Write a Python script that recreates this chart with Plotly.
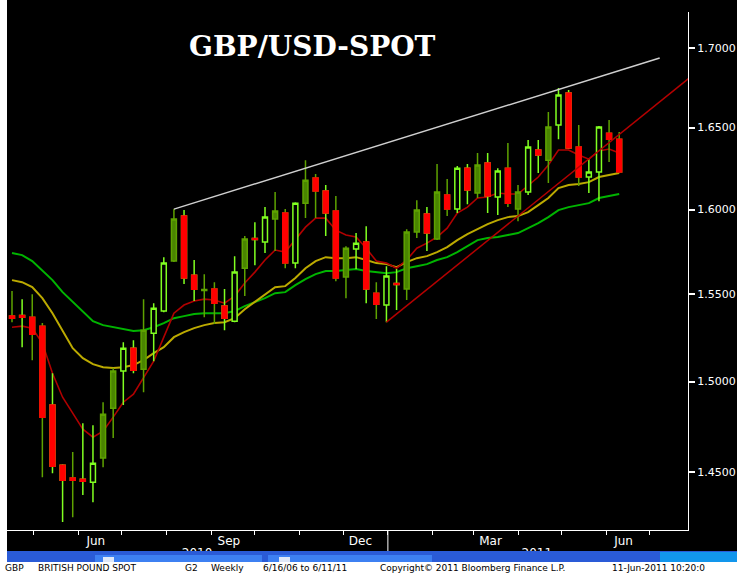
import numpy as np
import plotly.graph_objects as go

# ---------------- data ----------------
dates = [
    "2010-04-16", "2010-04-23", "2010-04-30", "2010-05-07", "2010-05-14", "2010-05-21", "2010-05-28",
    "2010-06-04", "2010-06-11", "2010-06-18", "2010-06-25", "2010-07-02", "2010-07-09", "2010-07-16",
    "2010-07-23", "2010-07-30", "2010-08-06", "2010-08-13", "2010-08-20", "2010-08-27", "2010-09-03",
    "2010-09-10", "2010-09-17", "2010-09-24", "2010-10-01", "2010-10-08", "2010-10-15", "2010-10-22",
    "2010-10-29", "2010-11-05", "2010-11-12", "2010-11-19", "2010-11-26", "2010-12-03", "2010-12-10",
    "2010-12-17", "2010-12-24", "2010-12-31", "2011-01-07", "2011-01-14", "2011-01-21", "2011-01-28",
    "2011-02-04", "2011-02-11", "2011-02-18", "2011-02-25", "2011-03-04", "2011-03-11", "2011-03-18",
    "2011-03-25", "2011-04-01", "2011-04-08", "2011-04-15", "2011-04-22", "2011-04-29", "2011-05-06",
    "2011-05-13", "2011-05-20", "2011-05-27", "2011-06-03", "2011-06-10",
]
open_ = [
    1.5373, 1.5376, 1.5367, 1.5315, 1.4868, 1.4536, 1.4466, 1.4460, 1.4444, 1.4575,
    1.4851, 1.5059, 1.5189, 1.5070, 1.5275, 1.5402, 1.5694, 1.5961, 1.5611, 1.5521,
    1.5530, 1.5431, 1.5344, 1.5652, 1.5827, 1.5806, 1.5943, 1.5979, 1.5682, 1.6039,
    1.6191, 1.6112, 1.5991, 1.5600, 1.5765, 1.5806, 1.5506, 1.5437, 1.5562, 1.5530,
    1.5866, 1.5973, 1.5824, 1.6088, 1.6003, 1.6251, 1.6100, 1.6282, 1.6076, 1.6251,
    1.6003, 1.6106, 1.6362, 1.6300, 1.6516, 1.6716, 1.6380, 1.6197, 1.6227, 1.6466,
    1.6429,
]
high = [
    1.5518, 1.5471, 1.5500, 1.5333, 1.5047, 1.4542, 1.4608, 1.4767, 1.4756, 1.4884,
    1.5076, 1.5223, 1.5235, 1.5471, 1.5448, 1.5717, 1.6003, 1.5997, 1.5700, 1.5617,
    1.5570, 1.5530, 1.5723, 1.5842, 1.5925, 1.6015, 1.6106, 1.6003, 1.6045, 1.6300,
    1.6215, 1.6148, 1.6082, 1.5782, 1.5860, 1.5901, 1.5570, 1.5664, 1.5647, 1.5883,
    1.6057, 1.6015, 1.6276, 1.6185, 1.6264, 1.6276, 1.6343, 1.6343, 1.6251, 1.6405,
    1.6148, 1.6423, 1.6423, 1.6597, 1.6747, 1.6735, 1.6516, 1.6306, 1.6510, 1.6547,
    1.6473,
]
low = [
    1.5338, 1.5195, 1.5121, 1.4471, 1.4493, 1.4229, 1.4255, 1.4374, 1.4336, 1.4525,
    1.4685, 1.4868, 1.5047, 1.4940, 1.5115, 1.5396, 1.5688, 1.5559, 1.5460, 1.5367,
    1.5327, 1.5292, 1.5338, 1.5489, 1.5670, 1.5741, 1.5753, 1.5652, 1.5652, 1.5949,
    1.5949, 1.5842, 1.5576, 1.5477, 1.5647, 1.5448, 1.5356, 1.5338, 1.5408, 1.5466,
    1.5830, 1.5753, 1.5818, 1.5961, 1.5979, 1.6033, 1.6070, 1.5979, 1.5967, 1.6015,
    1.5931, 1.6088, 1.6221, 1.6160, 1.6429, 1.6368, 1.6142, 1.6100, 1.6051, 1.6288,
    1.6221,
]
close = [
    1.5361, 1.5367, 1.5269, 1.4801, 1.4531, 1.4455, 1.4455, 1.4449, 1.4547, 1.4817,
    1.5059, 1.5189, 1.5064, 1.5292, 1.5419, 1.5682, 1.5943, 1.5594, 1.5529, 1.5527,
    1.5448, 1.5361, 1.5629, 1.5824, 1.5821, 1.5955, 1.5991, 1.5682, 1.6039, 1.6178,
    1.6112, 1.5979, 1.5594, 1.5770, 1.5800, 1.5530, 1.5442, 1.5606, 1.5556, 1.5866,
    1.5997, 1.5860, 1.6106, 1.6003, 1.6251, 1.6118, 1.6270, 1.6082, 1.6233, 1.6039,
    1.6106, 1.6380, 1.6331, 1.6504, 1.6703, 1.6374, 1.6197, 1.6227, 1.6504, 1.6429,
    1.6227,
]
# candle kind as seen: h = hollow up, f = filled up, ro / rb = down (olive / bright wick)
kind = [
    "ro", "rb", "ro", "ro", "rb", "rb", "ro", "rb", "h", "f",
    "f", "h", "rb", "f", "h", "h", "f", "rb", "rb", "f",
    "ro", "rb", "h", "f", "rb", "h", "f", "ro", "h", "f",
    "ro", "rb", "ro", "f", "h", "rb", "ro", "h", "rb", "f",
    "f", "rb", "f", "ro", "h", "rb", "f", "rb", "h", "ro",
    "f", "h", "rb", "f", "h", "rb", "ro", "h", "h", "ro",
    "ro",
]
ma_red = [
    1.5309, 1.5315, 1.5304, 1.5218, 1.5047, 1.4912, 1.4823, 1.4734, 1.4690, 1.4723,
    1.4801, 1.4884, 1.4929, 1.5019, 1.5115, 1.5252, 1.5390, 1.5437, 1.5460, 1.5471,
    1.5466, 1.5448, 1.5489, 1.5565, 1.5629, 1.5700, 1.5759, 1.5747, 1.5818, 1.5895,
    1.5949, 1.5949, 1.5877, 1.5848, 1.5836, 1.5770, 1.5694, 1.5682, 1.5652, 1.5700,
    1.5770, 1.5800, 1.5836, 1.5889, 1.5979, 1.6015, 1.6070, 1.6076, 1.6100, 1.6094,
    1.6094, 1.6148, 1.6197, 1.6270, 1.6362, 1.6362, 1.6331, 1.6306, 1.6356, 1.6368,
    1.6343,
]
ma_yellow = [
    1.5582, 1.5570, 1.5541, 1.5477, 1.5390, 1.5292, 1.5189, 1.5132, 1.5098, 1.5081,
    1.5076, 1.5081, 1.5093, 1.5121, 1.5161, 1.5195, 1.5252, 1.5281, 1.5304, 1.5321,
    1.5333, 1.5338, 1.5361, 1.5413, 1.5454, 1.5500, 1.5541, 1.5547, 1.5594, 1.5652,
    1.5694, 1.5717, 1.5711, 1.5711, 1.5717, 1.5700, 1.5682, 1.5676, 1.5658, 1.5688,
    1.5711, 1.5723, 1.5747, 1.5776, 1.5818, 1.5854, 1.5883, 1.5913, 1.5937, 1.5955,
    1.5961, 1.5985, 1.6027, 1.6070, 1.6130, 1.6148, 1.6154, 1.6166, 1.6197, 1.6209,
    1.6221,
]
ma_green = [
    1.5741, 1.5729, 1.5694, 1.5635, 1.5582, 1.5512, 1.5454, 1.5396, 1.5344, 1.5321,
    1.5309, 1.5298, 1.5287, 1.5292, 1.5309, 1.5333, 1.5361, 1.5373, 1.5385, 1.5390,
    1.5390, 1.5390, 1.5402, 1.5431, 1.5454, 1.5477, 1.5506, 1.5512, 1.5553, 1.5588,
    1.5617, 1.5635, 1.5635, 1.5641, 1.5647, 1.5635, 1.5629, 1.5623, 1.5629, 1.5652,
    1.5664, 1.5676, 1.5700, 1.5717, 1.5747, 1.5782, 1.5818, 1.5830, 1.5836, 1.5848,
    1.5860, 1.5889, 1.5919, 1.5955, 1.5997, 1.6015, 1.6027, 1.6039, 1.6070, 1.6082,
    1.6094,
]
upper_trend_x = ["2010-08-06", "2011-07-08"]
upper_trend_y = [1.6003, 1.6937]
lower_trend_x = ["2010-12-31", "2011-08-05"]
lower_trend_y = [1.5338, 1.6866]

xtick_vals = ["2010-06-13", "2010-09-13", "2010-12-13", "2011-03-13", "2011-06-13"]
xtick_text = ["Jun", "Sep", "Dec", "Mar", "Jun"]
year_vals = ["2010-08-22", "2011-04-14"]
year_text = ["2010", "2011"]
month_ticks = ["2010-05-01", "2010-06-01", "2010-07-01", "2010-08-01", "2010-09-01",
               "2010-10-01", "2010-11-01", "2010-12-01", "2011-01-01", "2011-02-01",
               "2011-03-01", "2011-04-01", "2011-05-01", "2011-06-01", "2011-07-01"]
ytick_vals = [1.45, 1.50, 1.55, 1.60, 1.65, 1.70]
ytick_text = ["1.4500", "1.5000", "1.5500", "1.6000", "1.6500", "1.7000"]
title_text = "GBP/USD-SPOT"
status_items = [("GBP", 3), ("BRITISH POUND SPOT", 36), ("G2", 183), ("Weekly", 209),
                ("6/16/06 to 6/11/11", 261), ("Copyright\u00a9 2011 Bloomberg Finance L.P.", 378),
                ("11-Jun-2011 10:20:0", 610)]

# ---------------- layout constants ----------------
W, H = 737, 573
PL, PR, PT, PB = 7, 688, 12, 530
pw, ph = PR - PL, PB - PT
TASK_TOP, TASK_BOT = 551, 562


def px(x):
    return (x - PL) / pw


def py(y):
    return (PB - y) / ph


X_RANGE = ["2010-04-12 13:00", "2011-07-27 14:00"]
Y_RANGE = [float(np.log10(1.4187)), float(np.log10(1.7232))]

OLIVE_LINE = "#5ea200"
OLIVE_FILL = "#4a8500"
BRIGHT = "#80ff20"
RED = "#ff0000"

d = np.array(dates)
o, hi, lo, c = (np.array(v) for v in (open_, high, low, close))
k = np.array(kind)

fig = go.Figure()

# moving averages (bottom layer)
for vals, col, wd in ((ma_green, "#00b400", 2), (ma_yellow, "#bcaa00", 2), (ma_red, "#b00000", 1.6)):
    fig.add_trace(go.Scatter(x=dates, y=vals, mode="lines", line=dict(color=col, width=wd),
                             hoverinfo="skip", yaxis="y"))


def candles(mask, line_col, fill_col, lw, body_only=False):
    hh = np.maximum(o[mask], c[mask]) if body_only else hi[mask]
    ll = np.minimum(o[mask], c[mask]) if body_only else lo[mask]
    style = dict(line=dict(color=line_col, width=lw), fillcolor=fill_col)
    return go.Candlestick(x=d[mask], open=o[mask], high=hh, low=ll, close=c[mask],
                          increasing=style, decreasing=style, whiskerwidth=0,
                          hoverinfo="skip", yaxis="y2")


fig.add_trace(candles(np.isin(k, ["f", "ro"]), OLIVE_LINE, OLIVE_FILL, 1.5))
fig.add_trace(candles(np.isin(k, ["h", "rb"]), BRIGHT, "#000000", 1.5))
fig.add_trace(candles(np.isin(k, ["ro", "rb"]), RED, RED, 1.5, body_only=True))

# trend lines (top layer)
fig.add_trace(go.Scatter(x=upper_trend_x, y=upper_trend_y, mode="lines",
                         line=dict(color="#cfcfcf", width=1.5), hoverinfo="skip",
                         xaxis="x2", yaxis="y3"))
fig.add_trace(go.Scatter(x=lower_trend_x, y=lower_trend_y, mode="lines",
                         line=dict(color="#b40000", width=1.5), hoverinfo="skip",
                         xaxis="x2", yaxis="y3"))

tick_font = dict(family="DejaVu Sans", size=12, color="white")
ytick_font = dict(family="DejaVu Sans", size=11, color="white")
yax_hidden = dict(type="log", range=Y_RANGE, overlaying="y", visible=False, fixedrange=True)

fig.update_layout(
    template="none",
    width=W, height=H, autosize=False,
    margin=dict(l=PL, r=W - PR, t=PT, b=H - PB, pad=0),
    paper_bgcolor="black", plot_bgcolor="black",
    showlegend=False,
    xaxis=dict(type="date", range=X_RANGE, showgrid=False, zeroline=False,
               showline=True, linecolor="white", linewidth=1,
               ticks="", tickmode="array", tickvals=xtick_vals, ticktext=xtick_text,
               tickfont=tick_font, automargin=False, fixedrange=True,
               rangeslider=dict(visible=False),
               minor=dict(ticks="outside", ticklen=4, tickwidth=1, tickcolor="white",
                          tickmode="array", tickvals=month_ticks, showgrid=False)),
    xaxis2=dict(type="date", range=X_RANGE, overlaying="x", anchor="y3", side="bottom",
                showgrid=False, zeroline=False, showline=False, ticks="",
                tickmode="array", tickvals=year_vals, ticktext=year_text,
                tickfont=tick_font, ticklabelstandoff=14, automargin=False, fixedrange=True),
    yaxis=dict(type="log", range=Y_RANGE, side="right", showgrid=False, zeroline=False,
               showline=True, linecolor="white", linewidth=1,
               ticks="outside", ticklen=6, tickwidth=2, tickcolor="white",
               tickmode="array", tickvals=ytick_vals, ticktext=ytick_text,
               tickfont=ytick_font, automargin=False, fixedrange=True),
    yaxis2=yax_hidden,
    yaxis3=yax_hidden,
)

shapes = [
    # left white strip
    dict(type="rect", xref="paper", yref="paper", x0=px(0), x1=px(PL), y0=py(H), y1=py(0),
         fillcolor="white", line=dict(width=0), layer="above"),
    # year separator tick
    dict(type="line", xref="x", yref="paper", x0="2011-01-01", x1="2011-01-01", y0=0, y1=py(TASK_TOP),
         line=dict(color="white", width=1), layer="above"),
    # taskbar
    dict(type="rect", xref="paper", yref="paper", x0=px(PL), x1=px(W), y0=py(TASK_BOT), y1=py(TASK_TOP),
         fillcolor="#2a5bd7", line=dict(width=0), layer="above"),
    dict(type="rect", xref="paper", yref="paper", x0=px(95), x1=px(262), y0=py(TASK_BOT), y1=py(TASK_TOP + 4),
         fillcolor="#3d80f2", line=dict(width=0), layer="above"),
    dict(type="rect", xref="paper", yref="paper", x0=px(268), x1=px(432), y0=py(TASK_BOT), y1=py(TASK_TOP + 4),
         fillcolor="#3d80f2", line=dict(width=0), layer="above"),
    dict(type="rect", xref="paper", yref="paper", x0=px(103), x1=px(114), y0=py(TASK_BOT), y1=py(TASK_TOP + 6),
         fillcolor="#dfe8f8", line=dict(width=0), layer="above"),
    dict(type="rect", xref="paper", yref="paper", x0=px(279), x1=px(290), y0=py(TASK_BOT), y1=py(TASK_TOP + 6),
         fillcolor="#dfe8f8", line=dict(width=0), layer="above"),
    dict(type="rect", xref="paper", yref="paper", x0=px(660), x1=px(W), y0=py(TASK_BOT), y1=py(TASK_TOP + 1),
         fillcolor="#1296ec", line=dict(width=0), layer="above"),
    # status bar
    dict(type="rect", xref="paper", yref="paper", x0=px(0), x1=px(W), y0=py(H), y1=py(TASK_BOT),
         fillcolor="white", line=dict(width=0), layer="above"),
]
fig.update_layout(shapes=shapes)

annotations = [
    dict(text="<b>" + title_text + "</b>", xref="paper", yref="paper", x=px(312), y=py(47),
         xanchor="center", yanchor="middle", showarrow=False,
         font=dict(family="DejaVu Serif", size=28, color="white")),
]
for txt, xl in status_items:
    annotations.append(dict(text=txt, xref="paper", yref="paper", x=px(xl), y=py(567.5),
                            xanchor="left", yanchor="middle", showarrow=False,
                            font=dict(family="DejaVu Sans", size=9, color="black")))
fig.update_layout(annotations=annotations)

fig.write_html(
    "out.html",
    config={"displayModeBar": False, "staticPlot": True},
    post_script="document.body.style.margin='0px';document.body.style.overflow='hidden';",
)
